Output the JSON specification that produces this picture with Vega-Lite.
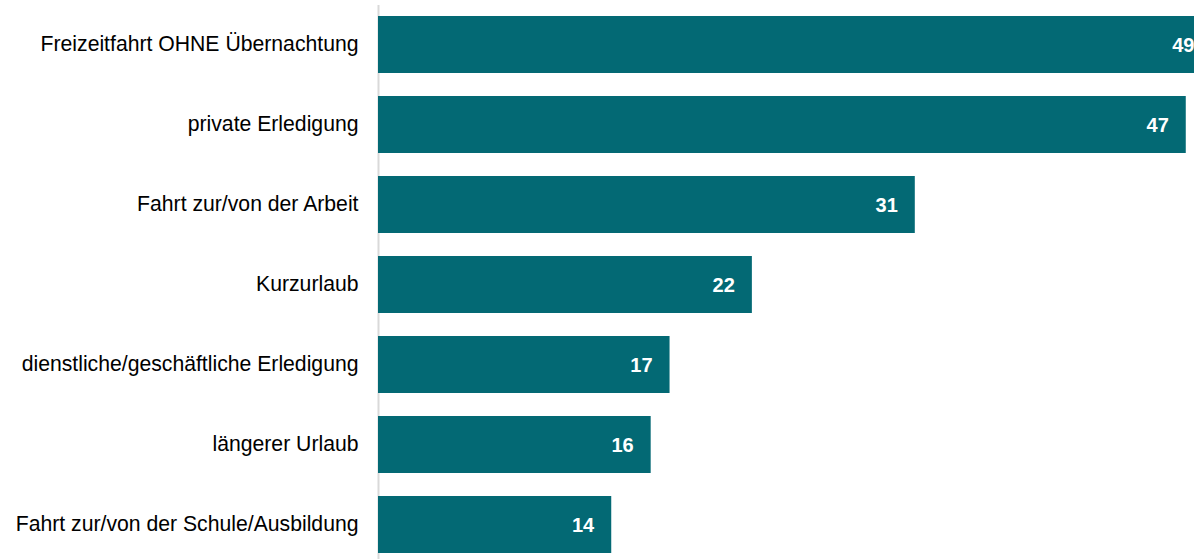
{
  "$schema": "https://vega.github.io/schema/vega-lite/v6.json",
  "autosize": {"type": "none"},
  "padding": {"left": 378, "top": 4.5, "right": 0, "bottom": 0},
  "width": 816,
  "height": 560,
  "background": "white",
  "config": {"view": {"stroke": null}, "font": "Liberation Sans"},
  "data": {
    "values": [
      {"zweck": "Freizeitfahrt OHNE Übernachtung", "value": 48.6},
      {"zweck": "private Erledigung", "value": 47.1},
      {"zweck": "Fahrt zur/von der Arbeit", "value": 31.3},
      {"zweck": "Kurzurlaub", "value": 21.8},
      {"zweck": "dienstliche/geschäftliche Erledigung", "value": 17.0},
      {"zweck": "längerer Urlaub", "value": 15.9},
      {"zweck": "Fahrt zur/von der Schule/Ausbildung", "value": 13.6}
    ]
  },
  "encoding": {
    "y": {
      "field": "zweck",
      "type": "nominal",
      "sort": null,
      "scale": {"paddingInner": 0.2875, "paddingOuter": 0.14375},
      "axis": {
        "title": null,
        "ticks": false,
        "labelFont": "Liberation Sans",
        "labelFontSize": 21.2,
        "labelColor": "#000000",
        "labelPadding": 20,
        "labelLimit": 400,
        "domainColor": "#d9d9d9",
        "domainWidth": 2,
        "grid": false
      }
    },
    "x": {
      "field": "value",
      "type": "quantitative",
      "scale": {"domain": [0, 47.58], "nice": false},
      "axis": null
    }
  },
  "layer": [
    {"mark": {"type": "bar", "fill": "#036974", "clip": true}},
    {
      "mark": {
        "type": "text",
        "align": "right",
        "baseline": "middle",
        "dx": -17,
        "dy": 1,
        "fontSize": 20,
        "fontWeight": "bold",
        "font": "Liberation Sans",
        "color": "white"
      },
      "encoding": {"text": {"field": "value", "type": "quantitative", "format": ".0f"}}
    }
  ]
}
